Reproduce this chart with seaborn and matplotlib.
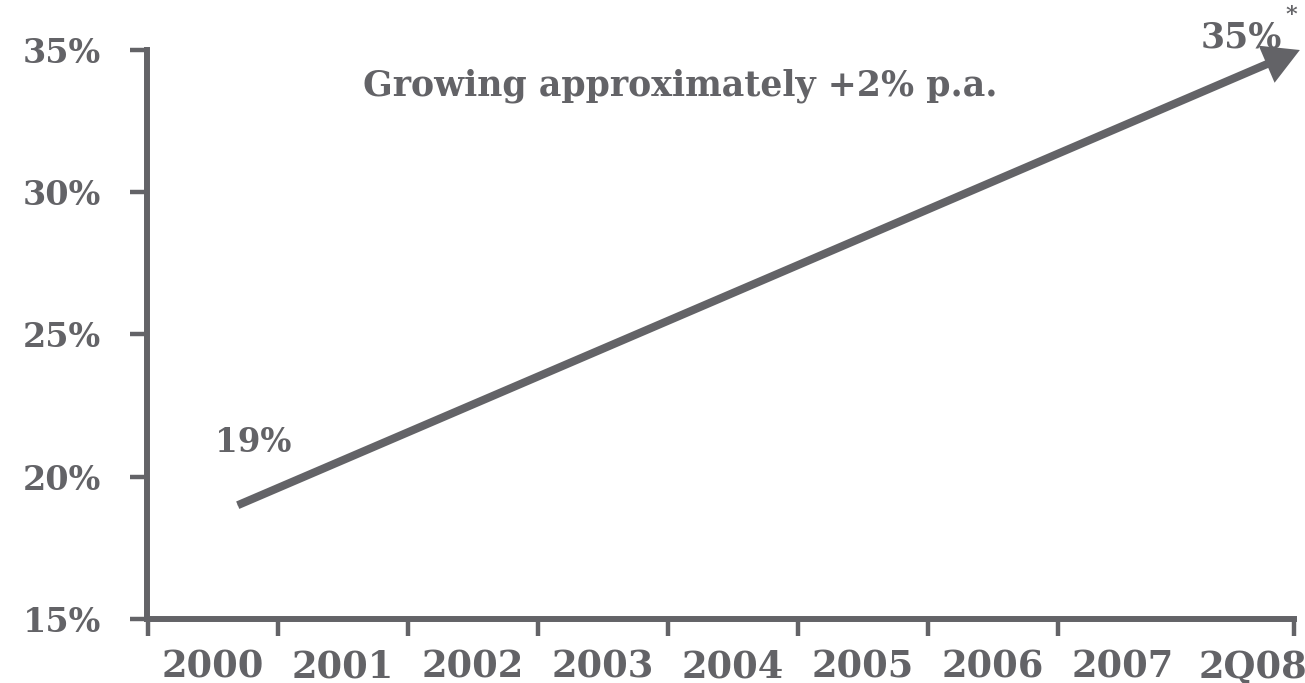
import numpy as np
import pandas as pd
import matplotlib
matplotlib.use("Agg")
import matplotlib.pyplot as plt
from matplotlib.ticker import FuncFormatter
import seaborn as sns

# Categories along the x axis
periods = ["2000", "2001", "2002", "2003", "2004", "2005", "2006", "2007", "2Q08"]
# Trend arrow: start and end (category position, share in %)
trend_pos = [0.19, 8.36]
trend_share = [19, 35]
# Value axis ticks (%)
share_ticks = [15, 20, 25, 30, 35]
start_label = "19%"
end_label = "35%"
end_note = "*"
headline = "Growing approximately +2% p.a."

GREY = "#636367"

sns.set_style("white")
plt.rcParams["font.family"] = ["DejaVu Serif"]
plt.rcParams["font.weight"] = "bold"
plt.rcParams["text.color"] = GREY
plt.rcParams["xtick.color"] = GREY
plt.rcParams["ytick.color"] = GREY

W, H = 1305, 683
fig = plt.figure(figsize=(W / 100, H / 100), dpi=100)
ax = fig.add_axes([147 / W, 1 - 619 / H, (1294 - 147) / W, (619 - 50) / H])

n = len(periods)
ax.set_xlim(-0.508, n - 1 + 0.315)
ax.set_ylim(share_ticks[0], share_ticks[-1])

# Spines
for side in ["top", "right"]:
    ax.spines[side].set_visible(False)
for side in ["left", "bottom"]:
    ax.spines[side].set_color(GREY)
    ax.spines[side].set_linewidth(4.3)
    ax.spines[side].set_capstyle("projecting")

# Tick marks sit on the category boundaries; labels sit at the category centres
bounds = list(np.arange(n - 1) - 0.5) + [ax.get_xlim()[1]]
ax.set_xticks(bounds)
ax.set_xticklabels([""] * len(bounds))
ax.set_xticks(np.arange(n), minor=True)
ax.set_xticklabels(periods, minor=True)
ax.tick_params(axis="x", which="major", bottom=True, length=12, width=3.2,
               color=GREY, direction="out")
ax.tick_params(axis="x", which="minor", bottom=True, length=0, pad=22,
               labelsize=26.5, labelcolor=GREY)

ax.set_yticks(share_ticks)
ax.yaxis.set_major_formatter(FuncFormatter(lambda v, _: f"{v:.0f}%"))
ax.tick_params(axis="y", left=True, length=12, width=3.2, color=GREY, pad=21,
               labelsize=24, labelcolor=GREY, direction="out")
for lab in ax.get_xticklabels(minor=True) + ax.get_yticklabels():
    lab.set_fontweight("bold")

# Trend arrow: seaborn draws the shaft up to the base of the head
p0 = ax.transData.transform((trend_pos[0], trend_share[0]))
p1 = ax.transData.transform((trend_pos[1], trend_share[1]))
u = (p1 - p0) / np.linalg.norm(p1 - p0)
head_px = 36
shaft_end = ax.transData.inverted().transform(p1 - u * head_px * 0.7)
shaft = pd.DataFrame({"pos": [trend_pos[0], shaft_end[0]],
                      "share": [trend_share[0], shaft_end[1]]})
sns.lineplot(data=shaft, x="pos", y="share", ax=ax, color=GREY, lw=5.8,
             solid_capstyle="butt", clip_on=False, legend=False)
ax.annotate("", xy=(trend_pos[1], trend_share[1]),
            xytext=(trend_pos[0], trend_share[0]),
            arrowprops=dict(arrowstyle="simple,head_length=1.3,head_width=1.45,tail_width=0.05",
                            mutation_scale=20, fc=GREY, ec="none", lw=0,
                            shrinkA=0, shrinkB=0),
            annotation_clip=False)
ax.set_xlabel("")
ax.set_ylabel("")

# Value labels at the ends of the trend
ax.annotate(start_label, xy=(trend_pos[0], trend_share[0]), xytext=(11, 45),
            textcoords="offset points", ha="center", va="center",
            fontsize=23.5, fontweight="bold", color=GREY, annotation_clip=False)
ax.annotate(end_label, xy=(trend_pos[1], trend_share[1]), xytext=(-42, 9),
            textcoords="offset points", ha="center", va="center",
            fontsize=25, fontweight="bold", color=GREY, annotation_clip=False)
ax.annotate(end_note, xy=(trend_pos[1], trend_share[1]), xytext=(-6, 25),
            textcoords="offset points", ha="center", va="center",
            fontsize=16, fontweight="bold", color=GREY, annotation_clip=False)

ax.text(0.465, 0.938, headline, transform=ax.transAxes, ha="center", va="center",
        fontsize=25, fontweight="bold", color=GREY)

fig.savefig("out.png", dpi=100, facecolor="white")
